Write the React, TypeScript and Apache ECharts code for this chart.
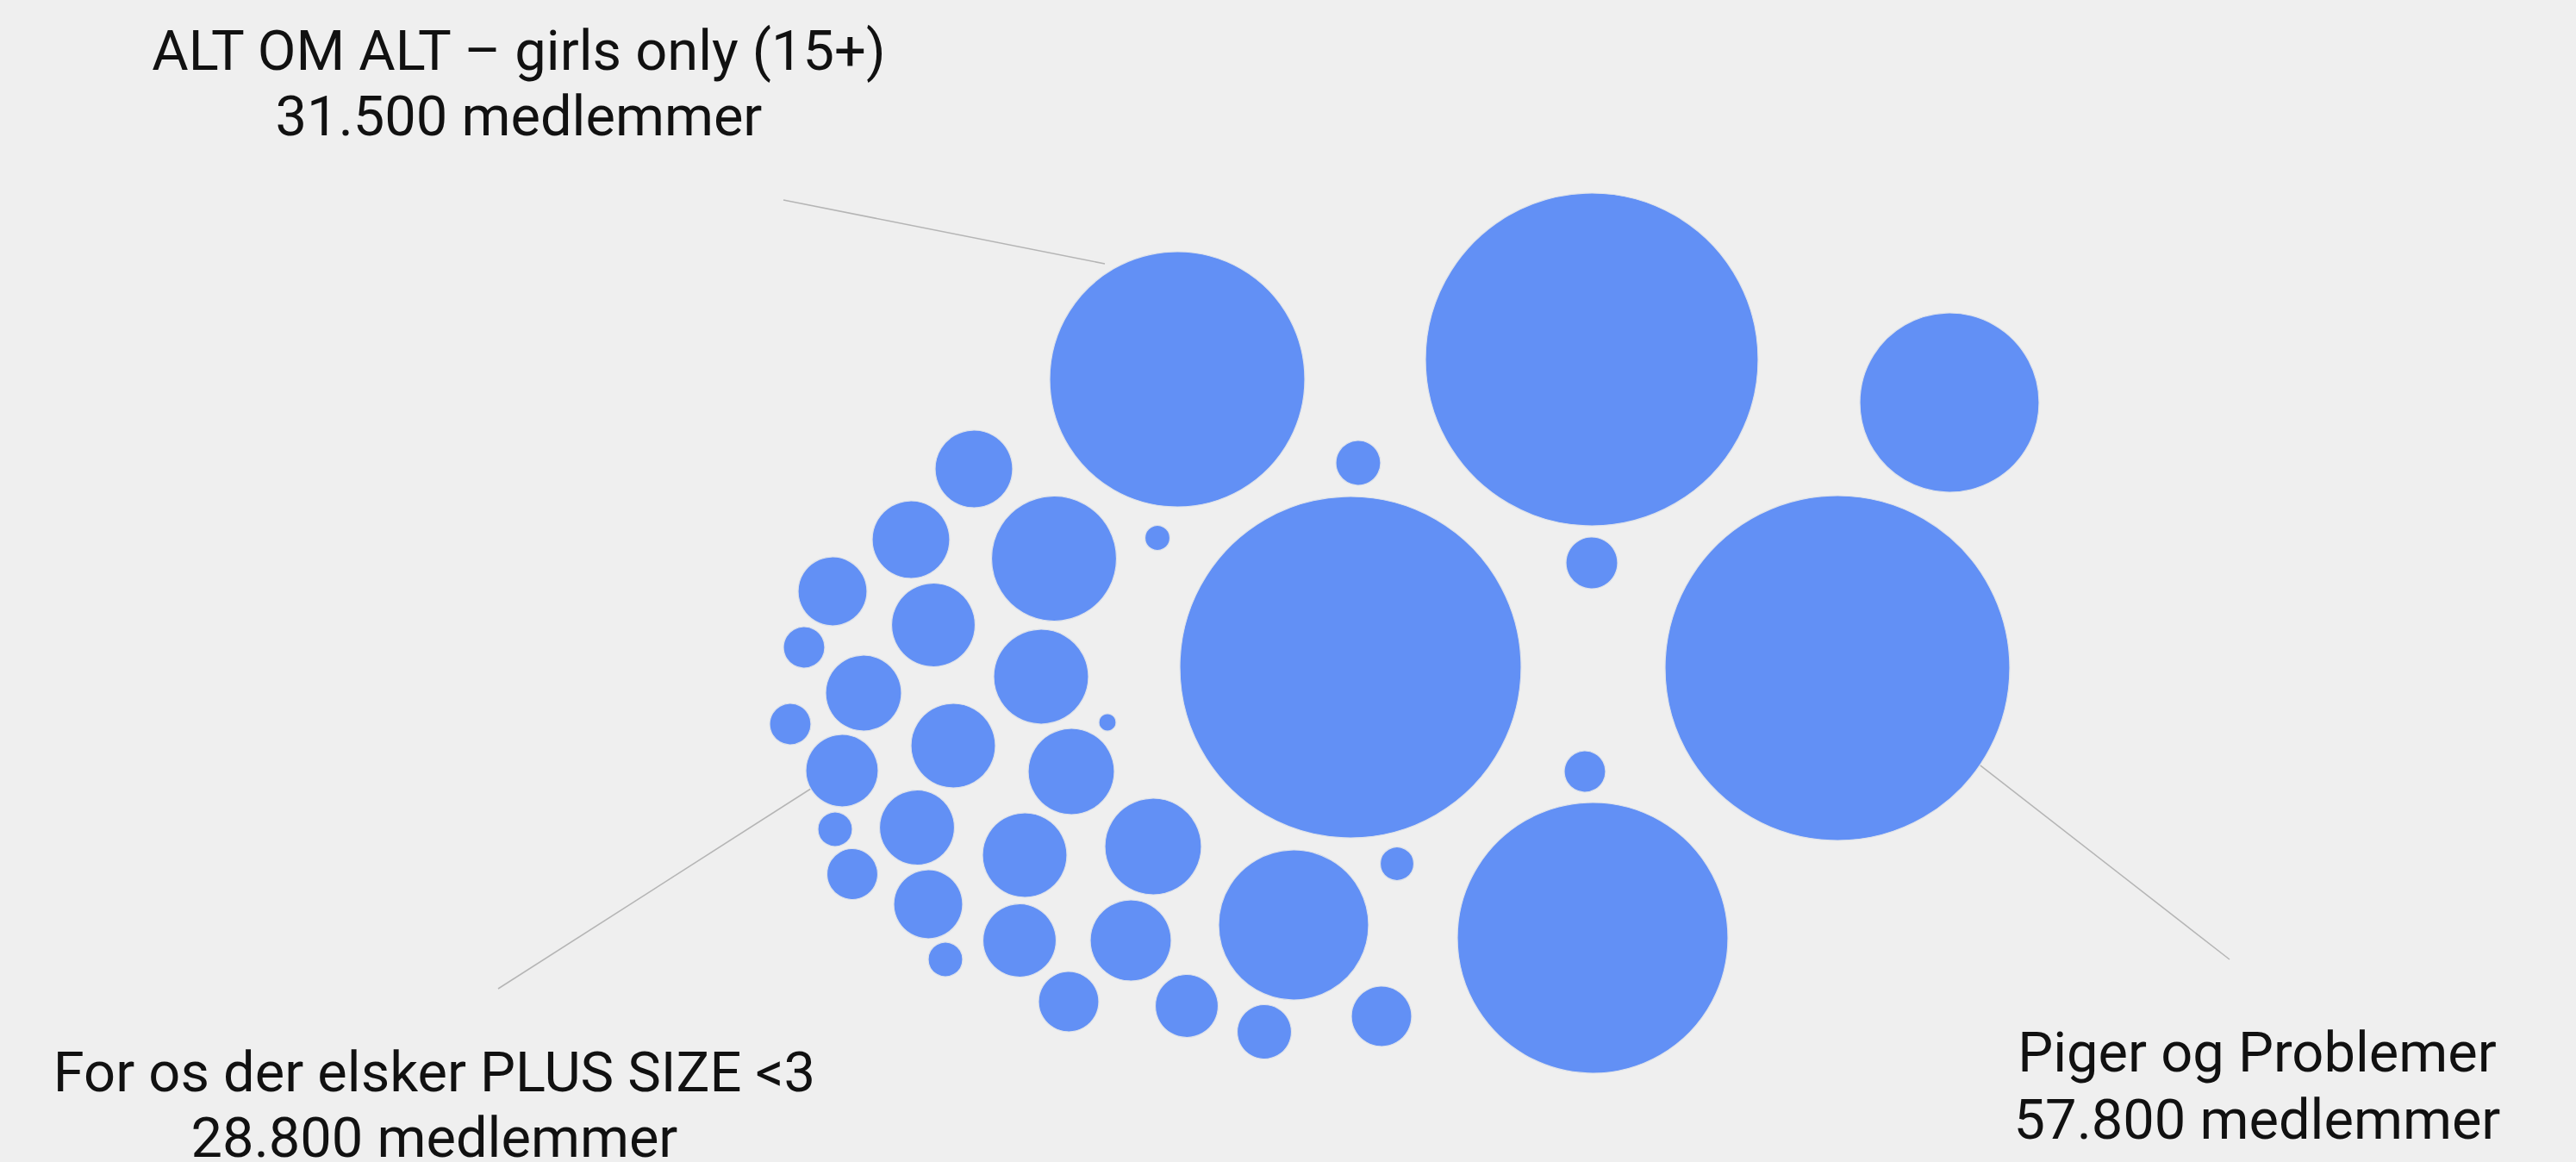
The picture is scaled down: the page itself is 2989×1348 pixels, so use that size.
import React, { useEffect, useRef } from "react";
import * as echarts from "echarts";

// Bubble centres (x, y in canvas units) and radii
const bubbleX = [1366, 1847, 2262, 1567, 2132, 1848, 1501, 1576, 1343, 1847, 1839, 1621, 1285,
  1130, 1057, 1223, 966, 1083, 933, 1208, 1002, 917, 1106, 1243, 977, 969, 1064, 1189, 1338,
  989, 1077, 1183, 1312, 1097, 1240, 1377, 1467, 1603];
const bubbleY = [440, 417, 467, 774, 775, 1088, 1073, 537, 624, 653, 895, 1002, 838,
  544, 626, 648, 686, 725, 751, 785, 804, 840, 865, 895, 894, 962, 960, 992, 982,
  1014, 1049, 1091, 1091, 1113, 1162, 1167, 1197, 1179];
const bubbleRadius = [148, 193, 104, 198, 200, 157, 87, 26, 14.5, 30, 24, 19.5, 10,
  45, 45, 72.5, 40, 48.5, 24, 55, 44, 24, 49, 50, 42, 20, 43.5, 49, 56,
  29.5, 40, 42.5, 47, 20, 35, 36.5, 31.5, 35];

// Annotations
const labelTitles = ["ALT OM ALT – girls only (15+)", "For os der elsker PLUS SIZE <3", "Piger og Problemer"];
const labelMembers = ["31.500 medlemmer", "28.800 medlemmer", "57.800 medlemmer"];
const labelX = [602, 504, 2619];
const labelY1 = [59, 1244, 1221];
const labelY2 = [135, 1320, 1299];
const leaderFrom = [[909, 232], [578, 1147], [2587, 1113]];
const leaderTo = [[1282, 306], [947, 911], [2285, 878]];

const W = 2989;
const H = 1348;

export default function App() {
  const ref = useRef<HTMLDivElement>(null);
  useEffect(() => {
    document.body.style.margin = "0";
    document.body.style.background = "#efefef";
    const chart = echarts.init(ref.current!, null, { renderer: "svg" });
    const data = bubbleX.map((x, i) => [x, bubbleY[i], bubbleRadius[i]]);
    const graphics: any[] = [];
    labelTitles.forEach((t, i) => {
      graphics.push({
        type: "text",
        style: {
          x: labelX[i], y: labelY1[i], text: t, align: "center", verticalAlign: "middle",
          font: '400 65px Roboto, "Noto Sans", sans-serif', fill: "#111111",
        },
      });
      graphics.push({
        type: "text",
        style: {
          x: labelX[i], y: labelY2[i], text: labelMembers[i], align: "center", verticalAlign: "middle",
          font: '400 65px Roboto, "Noto Sans", sans-serif', fill: "#111111",
        },
      });
    });
    chart.setOption({
      animation: false,
      backgroundColor: "#efefef",
      grid: { left: 0, right: 0, top: 0, bottom: 0 },
      xAxis: { type: "value", min: 0, max: W, show: false },
      yAxis: { type: "value", min: 0, max: H, inverse: true, show: false },
      series: [
        {
          type: "lines",
          coordinateSystem: "cartesian2d",
          silent: true,
          lineStyle: { color: "#b5b5b5", width: 1.5, opacity: 1 },
          data: leaderFrom.map((p, i) => ({ coords: [p, leaderTo[i]] })),
          z: 1,
        },
        {
          type: "scatter",
          data,
          symbol: "circle",
          symbolSize: (d: number[]) => d[2] * 2,
          itemStyle: { color: "#6290f5", borderColor: "#dfe3ea", borderWidth: 1.2, opacity: 1 },
          z: 2,
        },
      ],
      graphic: graphics,
    });
    return () => chart.dispose();
  }, []);
  return <div ref={ref} style={{ width: W, height: H }} />;
}
